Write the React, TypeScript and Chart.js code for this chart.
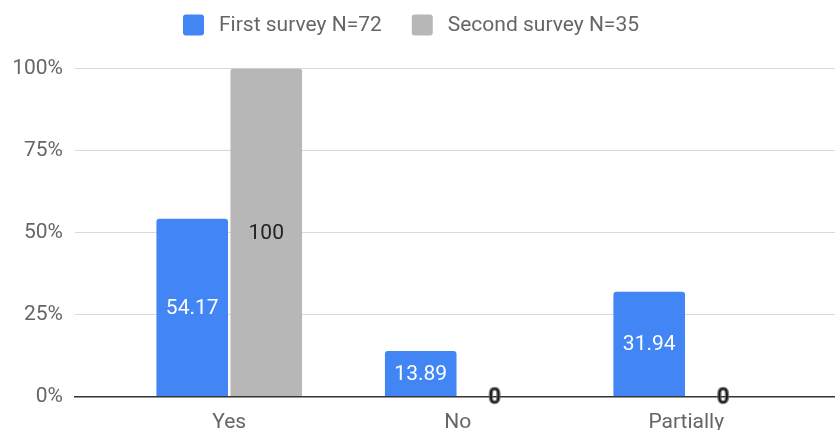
import React, { useEffect, useRef } from "react";
import { Chart, registerables } from "chart.js";

Chart.register(...registerables);

// Survey answers per category (percent of respondents)
const categories = ["Yes", "No", "Partially"];
const seriesNames = ["First survey N=72", "Second survey N=35"];
const firstSurvey = [54.17, 13.89, 31.94];
const secondSurvey = [100, 0, 0];
const yTickValues = [0, 25, 50, 75, 100];

const BLUE = "#4285F4";
const GREY = "#B7B7B7";
const FONT = "Roboto, 'Noto Sans', sans-serif";
const FONT_SIZE = 21;
const TEXT_GREY = "#666666";

// Legend row above the plot: rounded swatch + label for each series
const topLegend = {
  id: "topLegend",
  afterDraw(chart: any) {
    const ctx = chart.ctx as CanvasRenderingContext2D;
    ctx.save();
    ctx.font = `${FONT_SIZE}px ${FONT}`;
    const box = 21;
    const gapText = 15;
    const gapItem = 30;
    const items = chart.data.datasets.map((ds: any) => ({
      label: ds.label as string,
      color: ds.backgroundColor as string,
      w: ctx.measureText(ds.label).width,
    }));
    const total =
      items.reduce((s: number, it: any) => s + box + gapText + it.w, 0) +
      gapItem * (items.length - 1);
    let x = 411 - total / 2;
    const cy = 25;
    for (const it of items) {
      ctx.fillStyle = it.color;
      ctx.beginPath();
      ctx.roundRect(x, cy - box / 2, box, box, 3);
      ctx.fill();
      ctx.fillStyle = TEXT_GREY;
      ctx.textAlign = "left";
      ctx.textBaseline = "middle";
      ctx.fillText(it.label, x + box + gapText, cy + 1);
      x += box + gapText + it.w + gapItem;
    }
    ctx.restore();
  },
};

// Value labels centred inside each bar; zero values sit on the baseline
const valueLabels = {
  id: "valueLabels",
  afterDraw(chart: any) {
    const ctx = chart.ctx as CanvasRenderingContext2D;
    ctx.save();
    ctx.font = `${FONT_SIZE}px ${FONT}`;
    ctx.textAlign = "center";
    ctx.textBaseline = "middle";
    chart.data.datasets.forEach((ds: any, di: number) => {
      const meta = chart.getDatasetMeta(di);
      meta.data.forEach((bar: any, i: number) => {
        const v = ds.data[i].y as number;
        const text = String(v);
        const { x, y, base } = bar.getProps(["x", "y", "base"], true);
        const cy = (y + base) / 2 + 1;
        if (v === 0) {
          ctx.lineWidth = 2.5;
          ctx.lineJoin = "round";
          ctx.strokeStyle = "rgba(90,90,90,0.75)";
          ctx.strokeText(text, x, cy);
          ctx.fillStyle = "#1a1a1a";
          ctx.fillText(text, x, cy);
        } else {
          ctx.fillStyle = ds.labelColor;
          ctx.fillText(text, x, cy);
        }
      });
    });
    ctx.restore();
  },
};

export default function App() {
  const canvasRef = useRef<HTMLCanvasElement | null>(null);

  useEffect(() => {
    if (!canvasRef.current) return;
    const toPoints = (vals: number[]) => vals.map((v, i) => ({ x: i, y: v }));
    const chart = new Chart(canvasRef.current, {
      type: "bar",
      data: {
        datasets: [
          {
            label: seriesNames[0],
            data: toPoints(firstSurvey),
            backgroundColor: BLUE,
            labelColor: "#ffffff",
            borderRadius: 3,
            borderSkipped: "start",
            categoryPercentage: 0.648,
            barPercentage: 0.967,
          } as any,
          {
            label: seriesNames[1],
            data: toPoints(secondSurvey),
            backgroundColor: GREY,
            labelColor: "#222222",
            borderRadius: 3,
            borderSkipped: "start",
            categoryPercentage: 0.648,
            barPercentage: 0.967,
          } as any,
        ],
      },
      options: {
        responsive: false,
        animation: false,
        layout: { padding: { top: 68.5, left: 0, right: 0, bottom: 0 } },
        plugins: {
          legend: { display: false },
          tooltip: { enabled: false },
        },
        scales: {
          x: {
            type: "linear",
            offset: false,
            min: -0.675,
            max: 2.651,
            grid: { display: false, drawTicks: false, offset: false },
            border: { display: true, color: "#333333", width: 1.5, z: 1 },
            afterBuildTicks(scale: any) {
              scale.ticks = categories.map((_, i) => ({ value: i }));
            },
            afterFit(scale: any) {
              scale.height = 33.5;
            },
            ticks: {
              padding: 14,
              color: TEXT_GREY,
              font: { family: FONT, size: FONT_SIZE },
              autoSkip: false,
              maxRotation: 0,
              callback: (v: any) => categories[Math.round(Number(v))] ?? "",
            },
          },
          y: {
            min: 0,
            max: 100,
            afterBuildTicks(scale: any) {
              scale.ticks = yTickValues.map((v) => ({ value: v }));
            },
            afterFit(scale: any) {
              scale.width = 75;
            },
            grid: {
              drawTicks: false,
              color: (c: any) => (c.tick && c.tick.value === 0 ? "rgba(0,0,0,0)" : "#d9d9d9"),
              lineWidth: 1,
            },
            border: { display: false },
            ticks: {
              padding: 12,
              color: TEXT_GREY,
              font: { family: FONT, size: FONT_SIZE },
              callback: (v: any) => `${v}%`,
            },
          },
        },
      } as any,
      plugins: [valueLabels, topLegend],
    });
    return () => chart.destroy();
  }, []);

  return (
    <div style={{ position: "fixed", left: 0, top: 0, width: 835, height: 430, background: "#fff" }}>
      <canvas ref={canvasRef} width={835} height={430} />
    </div>
  );
}
